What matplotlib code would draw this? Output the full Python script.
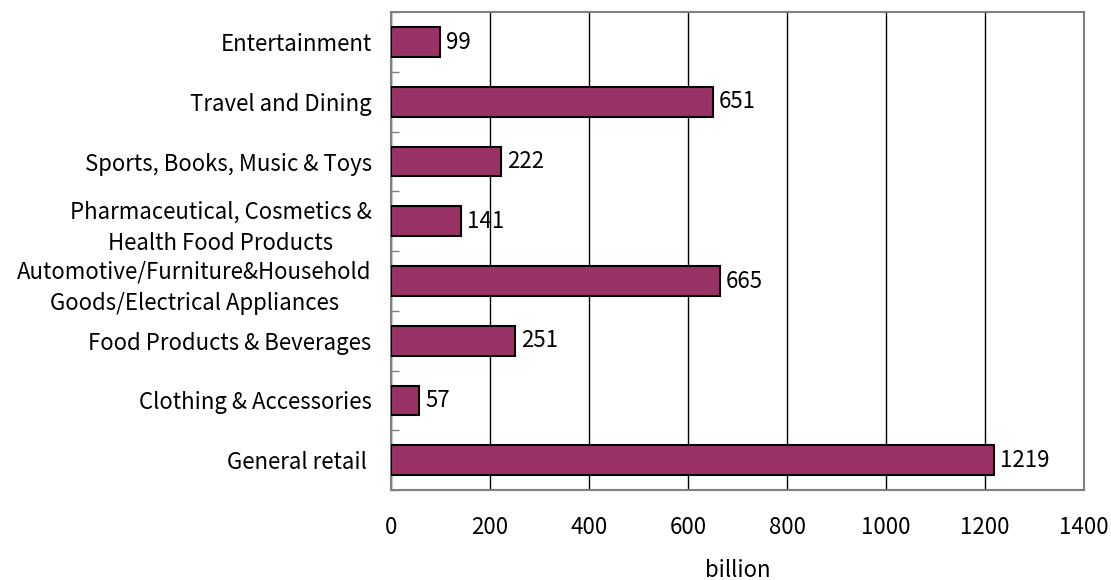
import matplotlib.pyplot as plt
import numpy as np

plt.rcParams['font.family'] = ['Noto Sans CJK JP', 'DejaVu Sans']

categories = [
    'General retail ',
    'Clothing & Accessories',
    'Food Products & Beverages',
    'Automotive/Furniture&Household\nGoods/Electrical Appliances',
    'Pharmaceutical, Cosmetics &\nHealth Food Products',
    'Sports, Books, Music & Toys',
    'Travel and Dining',
    'Entertainment',
]
values = [1219, 57, 251, 665, 141, 222, 651, 99]
x_ticks = [0, 200, 400, 600, 800, 1000, 1200, 1400]

fs = 16

fig = plt.figure(figsize=(11.11, 5.8), dpi=100)
ax = fig.add_axes([0.352, 0.155, 0.6237, 0.824])

pos = np.arange(len(categories))
ax.barh(pos, values, height=0.5, color='#993366', edgecolor='black', linewidth=1.5, zorder=3)

for p, v in zip(pos, values):
    ax.text(v + 12, p, str(v), va='center', ha='left', fontsize=fs, zorder=4)

ax.set_xlim(0, 1400)
ax.set_ylim(-0.5, len(categories) - 0.5)
ax.set_xticks(x_ticks)
ax.set_xticklabels([str(t) for t in x_ticks], fontsize=fs)
ax.tick_params(axis='x', length=0, pad=19)
ax.set_yticks(pos)
ax.set_yticklabels(categories, fontsize=fs, linespacing=1.45, multialignment='center')
ax.tick_params(axis='y', which='major', length=0, pad=14)
ax.set_yticks(np.arange(-0.5, len(categories), 1), minor=True)
ax.tick_params(axis='y', which='minor', direction='in', length=6, color='#808080', width=1)
ax.xaxis.grid(True, color='black', linewidth=1, zorder=0)
for s in ax.spines.values():
    s.set_color('#808080')
    s.set_linewidth(1.5)
ax.set_xlabel('billion', fontsize=fs, labelpad=14)

fig.savefig('out.png', dpi=100)
